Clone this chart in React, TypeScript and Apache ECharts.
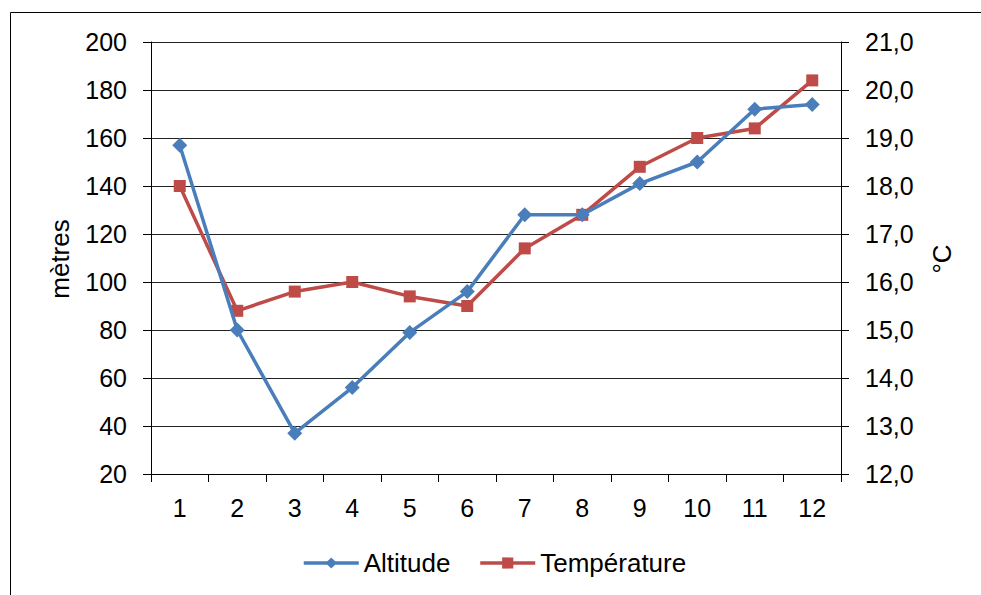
import React, { useEffect, useRef } from "react";
import * as echarts from "echarts";

const categories = ["1", "2", "3", "4", "5", "6", "7", "8", "9", "10", "11", "12"];
const altitude = [157, 80, 37, 56, 79, 96, 128, 128, 141, 150, 172, 174];
const temperature = [18.0, 15.4, 15.8, 16.0, 15.7, 15.5, 16.7, 17.4, 18.4, 19.0, 19.2, 20.2];
const leftTitle = "mètres";
const rightTitle = "°C";

const FONT = "'Liberation Sans', Arial, sans-serif";
const FS = 25;

export default function App() {
  const ref = useRef<HTMLDivElement>(null);
  useEffect(() => {
    if (!ref.current) return;
    const chart = echarts.init(ref.current, null, { renderer: "svg" });
    chart.setOption({
      animation: false,
      backgroundColor: "#ffffff",
      textStyle: { fontFamily: FONT },
      grid: { left: 151, right: 140, top: 42, bottom: 121, containLabel: false },
      legend: {
        top: 550,
        left: 302,
        padding: 0,
        itemWidth: 55,
        itemHeight: 14,
        itemGap: 28,
        lineStyle: { width: 3.5 },
        textStyle: { fontSize: 26, color: "#000", fontFamily: FONT },
        data: ["Altitude", "Température"],
      },
      graphic: [
        {
          type: "rect",
          shape: { x: 10.5, y: 12.5, width: 1000, height: 1000 },
          style: { fill: "none", stroke: "#000", lineWidth: 1 },
          silent: true,
        },
        {
          type: "text",
          x: 60,
          y: 259,
          rotation: Math.PI / 2,
          style: {
            text: leftTitle,
            fontSize: 26,
            fontFamily: FONT,
            fill: "#000",
            align: "center",
            verticalAlign: "middle",
          },
        },
        {
          type: "text",
          x: 942,
          y: 259,
          rotation: Math.PI / 2,
          style: {
            text: rightTitle,
            fontSize: 26,
            fontFamily: FONT,
            fill: "#000",
            align: "center",
            verticalAlign: "middle",
          },
        },
      ],
      xAxis: {
        type: "category",
        data: categories,
        boundaryGap: true,
        axisLine: { lineStyle: { color: "#000", width: 1 } },
        axisTick: { show: true, alignWithLabel: false, length: 8, lineStyle: { color: "#000" } },
        axisLabel: { fontSize: FS, color: "#000", margin: 21, fontFamily: FONT },
        splitLine: { show: false },
      },
      yAxis: [
        {
          type: "value",
          min: 20,
          max: 200,
          interval: 20,
          position: "left",
          axisLine: { show: true, lineStyle: { color: "#000", width: 1 } },
          axisTick: { show: true, length: 8, lineStyle: { color: "#000" } },
          axisLabel: { fontSize: FS, color: "#000", margin: 24, fontFamily: FONT },
          splitLine: { show: true, lineStyle: { color: "#222", width: 1 } },
        },
        {
          type: "value",
          min: 12,
          max: 21,
          interval: 1,
          position: "right",
          axisLine: { show: true, lineStyle: { color: "#000", width: 1 } },
          axisTick: { show: true, length: 8, lineStyle: { color: "#000" } },
          axisLabel: {
            fontSize: FS,
            color: "#000",
            margin: 24,
            fontFamily: FONT,
            formatter: (v: number) => v.toFixed(1).replace(".", ","),
          },
          splitLine: { show: false },
        },
      ],
      series: [
        {
          name: "Altitude",
          type: "line",
          yAxisIndex: 0,
          data: altitude,
          symbol: "diamond",
          symbolSize: 15,
          itemStyle: { color: "#4A7EBB" },
          lineStyle: { color: "#4A7EBB", width: 3.5 },
          z: 3,
        },
        {
          name: "Température",
          type: "line",
          yAxisIndex: 1,
          data: temperature,
          symbol: "rect",
          symbolSize: 12,
          itemStyle: { color: "#BE4B48" },
          lineStyle: { color: "#BE4B48", width: 3.5 },
          z: 2,
        },
      ],
    });
    return () => chart.dispose();
  }, []);
  return (
    <div
      ref={ref}
      style={{ position: "absolute", left: 0, top: 0, width: 981, height: 595 }}
    />
  );
}
